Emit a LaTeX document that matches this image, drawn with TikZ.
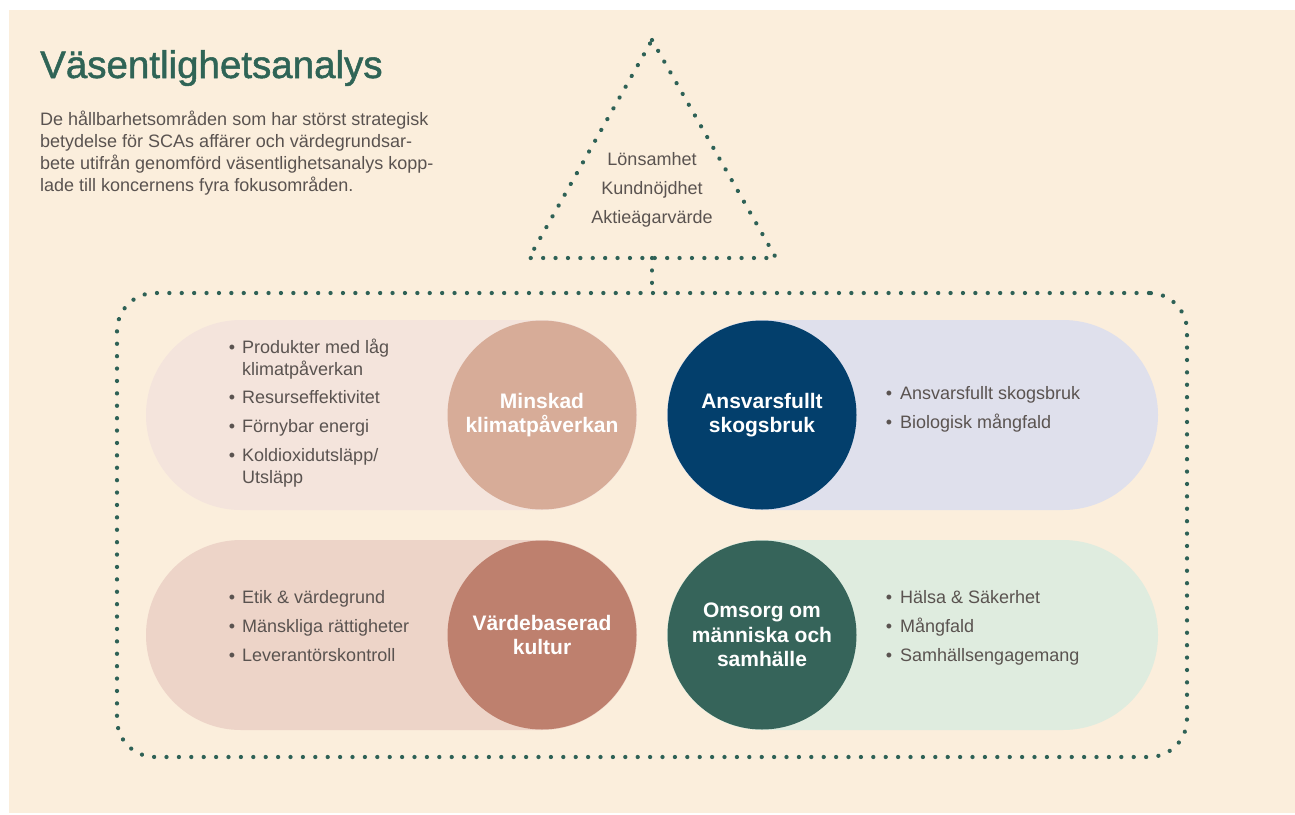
\documentclass[tikz,border=0pt]{standalone}
\usepackage{fontspec}
\setmainfont{Liberation Sans}
\newfontfamily\titlefont{Liberation Sans}[FakeBold=1.3]
\definecolor{bg}{HTML}{FBEEDC}
\definecolor{dotc}{HTML}{2E6156}
\definecolor{titlec}{HTML}{2F6456}
\definecolor{txt}{HTML}{5A5350}
\definecolor{pA}{HTML}{F4E4DC}
\definecolor{cA}{HTML}{D7AC98}
\definecolor{pB}{HTML}{DFE0EC}
\definecolor{cB}{HTML}{033F6C}
\definecolor{pC}{HTML}{EDD4C8}
\definecolor{cC}{HTML}{BE806E}
\definecolor{pD}{HTML}{DFECDF}
\definecolor{cD}{HTML}{36645A}
\tikzset{
  dotline/.style={draw=dotc, line width=4.2pt, line cap=round, dash pattern=on 0.1pt off 12.3pt},
  body/.style={text=txt, font=\fontsize{18}{22}\selectfont, inner sep=0pt, anchor=base west},
  tritxt/.style={text=txt, font=\fontsize{18}{22}\selectfont, inner sep=0pt, anchor=base},
  bul/.style={text=txt, font=\fontsize{18}{22}\selectfont, inner sep=0pt, anchor=base},
  focus/.style={circle, minimum size=189pt, inner sep=0pt, text=white, align=center,
    font=\fontsize{21}{24.5}\selectfont\bfseries},
  pill/.style={rounded corners=95pt},
}
\begin{document}
\begin{tikzpicture}[x=1pt,y=-1pt]
\useasboundingbox (0,0) rectangle (1295,814);
\fill[bg] (9,10) rectangle (1295,813);

% title and intro
\node[anchor=base west, inner sep=0pt, text=titlec, font=\fontsize{38.5}{44}\titlefont] (title) at (40,78) {Väsentlighetsanalys};
\node[body] (p1) at (40,125) {De hållbarhetsområden som har störst strategisk};
\node[body] (p2) at (40,147) {betydelse för SCAs affärer och värdegrundsar-};
\node[body] (p3) at (40,169) {bete utifrån genomförd väsentlighetsanalys kopp-};
\node[body] (p4) at (40,191) {lade till koncernens fyra fokusområden.};

% triangle
\coordinate (tA) at (652,40);
\coordinate (tL) at (529,258);
\coordinate (tR) at (776,258);
\coordinate (tB) at (652,258);
\draw[dotline] (tA) -- (tR) -- (tL) -- cycle;
\node[tritxt] (t1) at (652,165) {Lönsamhet};
\node[tritxt] (t2) at (652,194) {Kundnöjdhet};
\node[tritxt] (t3) at (652,223) {Aktieägarvärde};

% frame
\node[dotline, rounded corners=38pt, minimum width=1070pt, minimum height=464pt, inner sep=0pt] (frame) at (652,525) {};
\draw[dotline] (tB) -- (frame.north);

% pills
\fill[pA, pill] (146,320) rectangle (637,510);
\fill[pB, pill] (667,320) rectangle (1158,510);
\fill[pC, pill] (146,540) rectangle (637,730);
\fill[pD, pill] (667,540) rectangle (1158,730);

% focus circles
\node[focus, fill=cA] (fA) at (542,415) {Minskad\\klimatpåverkan};
\node[focus, fill=cB] (fB) at (762,415) {Ansvarsfullt\\skogsbruk};
\node[focus, fill=cC] (fC) at (542,635) {\raisebox{-3pt}{Värdebaserad}\\\raisebox{-3pt}{kultur}};
\node[focus, fill=cD] (fD) at (762,635) {Omsorg om\\människa och\\samhälle};

% lists
\node[bul] (bA1) at (232,353) {•};
\node[body] (lA1) at (242,353) {Produkter med låg};
\node[body] (lA1b) at (242,375) {klimatpåverkan};
\node[bul] (bA2) at (232,403) {•};
\node[body] (lA2) at (242,403) {Resurseffektivitet};
\node[bul] (bA3) at (232,432) {•};
\node[body] (lA3) at (242,432) {Förnybar energi};
\node[bul] (bA4) at (232,461) {•};
\node[body] (lA4) at (242,461) {Koldioxidutsläpp/};
\node[body] (lA4b) at (242,483) {Utsläpp};

\node[bul] (bB1) at (889,399) {•};
\node[body] (lB1) at (900,399) {Ansvarsfullt skogsbruk};
\node[bul] (bB2) at (889,428) {•};
\node[body] (lB2) at (900,428) {Biologisk mångfald};

\node[bul] (bC1) at (232,603) {•};
\node[body] (lC1) at (242,603) {Etik \& värdegrund};
\node[bul] (bC2) at (232,632) {•};
\node[body] (lC2) at (242,632) {Mänskliga rättigheter};
\node[bul] (bC3) at (232,661) {•};
\node[body] (lC3) at (242,661) {Leverantörskontroll};

\node[bul] (bD1) at (889,603) {•};
\node[body] (lD1) at (900,603) {Hälsa \& Säkerhet};
\node[bul] (bD2) at (889,632) {•};
\node[body] (lD2) at (900,632) {Mångfald};
\node[bul] (bD3) at (889,661) {•};
\node[body] (lD3) at (900,661) {Samhällsengagemang};
\end{tikzpicture}
\end{document}
